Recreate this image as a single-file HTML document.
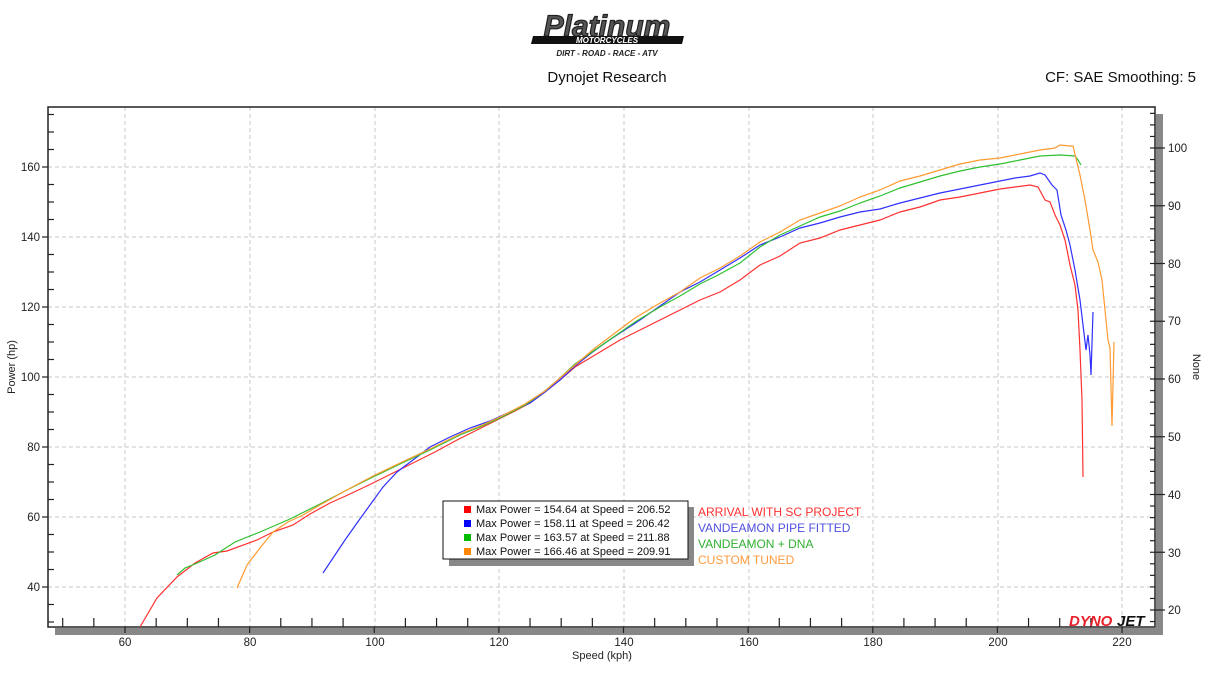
<!DOCTYPE html>
<html><head><meta charset="utf-8"><style>
body{margin:0;background:#fff;width:1214px;height:682px;overflow:hidden}
svg text{font-family:"Liberation Sans",sans-serif}
</style></head><body>
<svg width="1214" height="682" viewBox="0 0 1214 682">
<g>
<text x="607" y="36" text-anchor="middle" font-size="30" font-style="italic" font-weight="bold" fill="#555" stroke="#222" stroke-width="1.2" font-family="Liberation Serif">Platinum</text>
<polygon points="533,36 684,36 682,44 531,44" fill="#111"/>
<text x="607" y="43" text-anchor="middle" font-size="8" font-weight="bold" font-style="italic" fill="#fff">MOTORCYCLES</text>
<text x="607" y="56" text-anchor="middle" font-size="8" font-weight="bold" font-style="italic" fill="#222">DIRT - ROAD - RACE - ATV</text>
</g>
<text x="607" y="82" text-anchor="middle" font-size="15" fill="#111">Dynojet Research</text>
<text x="1196" y="82" text-anchor="end" font-size="15" fill="#111">CF: SAE Smoothing: 5</text>
<rect x="55" y="628" width="1107" height="7" fill="#888"/>
<rect x="1156" y="114" width="7" height="521" fill="#888"/>
<rect x="48" y="107" width="1108" height="521" fill="#fff"/>
<g stroke="#c8c8c8" stroke-dasharray="4,3" stroke-width="1">
<line x1="125" y1="107" x2="125" y2="627"/><line x1="250" y1="107" x2="250" y2="627"/><line x1="375" y1="107" x2="375" y2="627"/><line x1="499" y1="107" x2="499" y2="627"/><line x1="624" y1="107" x2="624" y2="627"/><line x1="749" y1="107" x2="749" y2="627"/><line x1="873" y1="107" x2="873" y2="627"/><line x1="998" y1="107" x2="998" y2="627"/><line x1="1122" y1="107" x2="1122" y2="627"/>
<line x1="48" y1="587" x2="1155" y2="587"/><line x1="48" y1="517" x2="1155" y2="517"/><line x1="48" y1="447" x2="1155" y2="447"/><line x1="48" y1="377" x2="1155" y2="377"/><line x1="48" y1="307" x2="1155" y2="307"/><line x1="48" y1="237" x2="1155" y2="237"/><line x1="48" y1="167" x2="1155" y2="167"/>
</g>
<rect x="48" y="107" width="1107" height="520" fill="none" stroke="#222" stroke-width="1.5"/>
<g stroke="#222" stroke-width="1.2" id="ticks"></g>
<g font-size="11.5" fill="#222" text-anchor="middle">
<text x="125" y="646">60</text><text x="250" y="646">80</text><text x="375" y="646">100</text><text x="499" y="646">120</text><text x="624" y="646">140</text><text x="749" y="646">160</text><text x="873" y="646">180</text><text x="998" y="646">200</text><text x="1122" y="646">220</text>
</g>
<g font-size="11.5" fill="#222" text-anchor="end">
<text x="40" y="591">40</text><text x="40" y="521">60</text><text x="40" y="451">80</text><text x="40" y="381">100</text><text x="40" y="311">120</text><text x="40" y="241">140</text><text x="40" y="171">160</text>
</g>
<g font-size="11.5" fill="#222">
<text x="1168" y="152">100</text><text x="1168" y="210">90</text><text x="1168" y="268">80</text><text x="1168" y="325">70</text><text x="1168" y="383">60</text><text x="1168" y="441">50</text><text x="1168" y="499">40</text><text x="1168" y="557">30</text><text x="1168" y="614">20</text>
</g>
<text x="602" y="659" text-anchor="middle" font-size="11" fill="#222">Speed (kph)</text>
<text x="15" y="367" text-anchor="middle" font-size="11" fill="#222" transform="rotate(-90 15 367)">Power (hp)</text>
<text x="1193" y="367" text-anchor="middle" font-size="11" fill="#222" transform="rotate(90 1193 367)">None</text>
<g fill="none" stroke-width="1.2">
<polyline stroke="#ff3030" points="140,627 157,598 177,577 195,563 213,553 227,551 257,540 273,532 293,525 310,514 330,503 350,494 373,483 393,473 413,463 435,452 457,440 477,430 497,420 515,411 530,403 545,392 560,380 575,367 590,358 605,349 620,340 640,330 660,320 680,310 700,300 720,292 740,280 760,265 780,256 800,243 820,238 840,230 860,225 880,220 900,212 920,207 940,200 960,197 980,193 1000,189 1015,187 1030,185 1038,187 1045,200 1050,202 1055,215 1060,225 1065,240 1070,265 1075,285 1078,310 1080,350 1082,400 1083,477"/>
<polyline stroke="#3030ff" points="323,573 335,555 345,540 357,523 370,505 383,487 397,472 413,460 430,447 450,437 470,428 490,421 510,412 530,403 545,392 560,380 575,366 590,354 605,343 620,333 640,320 660,306 680,292 700,282 720,270 740,258 760,245 780,237 800,228 820,223 840,217 860,212 880,209 900,203 920,198 940,193 960,189 980,185 1000,181 1015,178 1030,176 1040,173 1045,175 1052,185 1057,190 1061,215 1066,230 1070,245 1075,270 1080,300 1083,325 1086,350 1088,335 1090,355 1091,375 1093,312"/>
<polyline stroke="#30c030" points="177,575 185,568 195,564 215,555 235,542 260,532 290,519 320,504 345,491 373,477 400,464 430,450 460,435 480,427 500,418 525,405 545,391 560,378 575,364 595,350 615,336 635,322 660,307 680,296 700,284 720,274 740,263 760,247 780,235 800,226 820,217 840,211 860,203 880,196 900,188 920,182 940,176 960,171 980,167 1000,164 1020,160 1040,156 1060,155 1075,156 1078,160 1081,165"/>
<polyline stroke="#ff9a30" points="237,588 247,565 260,548 273,532 288,522 303,515 320,505 345,491 373,476 400,463 430,449 460,434 480,426 500,417 525,404 545,391 560,378 575,365 595,348 615,333 635,318 660,303 680,292 700,278 720,268 740,256 760,242 780,232 800,220 820,213 840,206 860,197 880,190 900,181 920,176 940,170 960,164 980,160 1000,158 1020,154 1040,150 1055,148 1060,145 1070,146 1073,146 1080,175 1085,200 1090,230 1093,250 1098,262 1102,280 1105,310 1108,340 1110,348 1112,426 1114,342"/>
</g>
<text x="1069" y="626" font-size="15" font-weight="bold" font-style="italic" fill="#e8202a">DYNO</text>
<text x="1117" y="626" font-size="15" font-weight="bold" font-style="italic" fill="#111">JET</text>
<rect x="449" y="507" width="245" height="59" fill="#888"/>
<rect x="443" y="501" width="245" height="58" fill="#fff" stroke="#111" stroke-width="1"/>
<rect x="464" y="506" width="7" height="7" fill="#f00"/>
<rect x="464" y="520" width="7" height="7" fill="#00f"/>
<rect x="464" y="534" width="7" height="7" fill="#0b0"/>
<rect x="464" y="548" width="7" height="7" fill="#f80"/>
<g font-size="11" fill="#111">
<text x="476" y="513">Max Power = 154.64 at Speed = 206.52</text>
<text x="476" y="527">Max Power = 158.11 at Speed = 206.42</text>
<text x="476" y="541">Max Power = 163.57 at Speed = 211.88</text>
<text x="476" y="555">Max Power = 166.46 at Speed = 209.91</text>
</g>
<g font-size="12">
<text x="698" y="516" fill="#ff3030">ARRIVAL WITH SC PROJECT</text>
<text x="698" y="532" fill="#5050e0">VANDEAMON PIPE FITTED</text>
<text x="698" y="548" fill="#30b030">VANDEAMON + DNA</text>
<text x="698" y="564" fill="#ff9a40">CUSTOM TUNED</text>
</g>
</svg>
<script>
var g=document.getElementById('ticks'),s='';
for(var k=50;k<=220;k+=5){var x=125+(k-60)*6.2313;var big=(k%20==0);s+='<line x1="'+x+'" y1="627" x2="'+x+'" y2="'+(big?633:618)+'"/>';}
for(var h=30;h<=175;h+=5){var y=167+(160-h)*3.5;if(y<107||y>627)continue;var big=(h%20==0);s+='<line x1="'+(big?42:48)+'" y1="'+y+'" x2="'+(big?48:54)+'" y2="'+y+'"/>';}
for(var r=18;r<=108;r+=2){var y=148+(100-r)*5.775;if(y<107||y>627)continue;var big=(r%10==0);s+='<line x1="1150" y1="'+y+'" x2="'+(big?1165:1155)+'" y2="'+y+'"/>';}
g.innerHTML=s;
</script>
</body></html>
